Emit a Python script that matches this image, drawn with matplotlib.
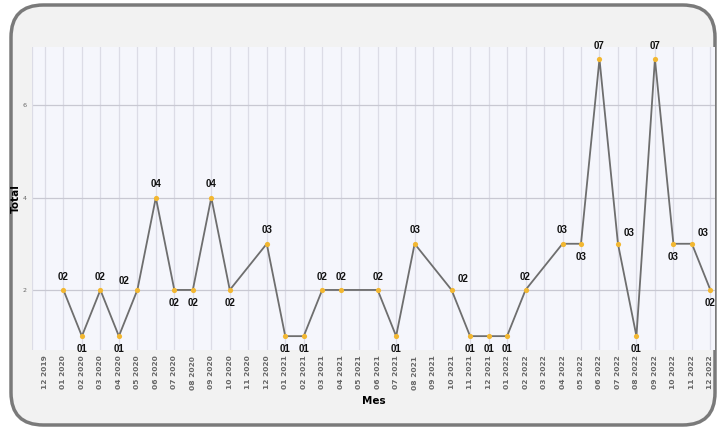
import numpy as np
import matplotlib
matplotlib.use("Agg")
import matplotlib.pyplot as plt
from matplotlib.patches import FancyBboxPatch

# months on the x axis
months = [
    "12 2019",
    "01 2020", "02 2020", "03 2020", "04 2020", "05 2020", "06 2020",
    "07 2020", "08 2020", "09 2020", "10 2020", "11 2020", "12 2020",
    "01 2021", "02 2021", "03 2021", "04 2021", "05 2021", "06 2021",
    "07 2021", "08 2021", "09 2021", "10 2021", "11 2021", "12 2021",
    "01 2022", "02 2022", "03 2022", "04 2022", "05 2022", "06 2022",
    "07 2022", "08 2022", "09 2022", "10 2022", "11 2022", "12 2022",
]
# monthly totals, nan = no record that month
totals = [
    np.nan,
    2, 1, 2, 1, 2, 4, 2, 2, 4, 2, np.nan, 3,
    1, 1, 2, 2, np.nan, 2, 1, 3, np.nan, 2, 1, 1,
    1, 2, np.nan, 3, 3, 7, 3, 1, 7, 3, 3, 2,
]
# where each value label sits: a=above, b=below, l=upper left, r=upper right
label_side = [
    "a", "b", "a", "b", "l", "a", "b", "b", "a", "b", "a",
    "b", "b", "a", "a", "a", "b", "a", "r", "b", "b",
    "b", "a", "a", "b", "a", "r", "b", "a", "b", "r", "b",
]

x = np.arange(len(months))
y = np.array(totals, dtype=float)
ok = ~np.isnan(y)
xs, ys = x[ok], y[ok]

fig = plt.figure(figsize=(7.19, 4.30), dpi=100)
fig.patch.set_facecolor("white")

# rounded grey card behind the chart
card = FancyBboxPatch(
    (11 / 719, 5 / 430), 704 / 719, 420 / 430,
    boxstyle="round,pad=0,rounding_size=0.045",
    transform=fig.transFigure, facecolor="#f2f2f2",
    edgecolor="#7a7a7a", linewidth=2.5, zorder=-5,
    mutation_aspect=719 / 430,
)
fig.patches.append(card)

ax = fig.add_axes([32 / 719, 80 / 430, 683 / 719, 303 / 430])
ax.set_zorder(1)
ax.set_facecolor("#f5f6fc")
ax.set_xlim(-0.7, 36.25)
ax.set_ylim(0.7, 7.26)

ax.set_xticks(x)
ax.set_xticklabels(months, rotation=90, fontsize=5.4, color="#666666",
                   fontweight="bold")
ax.set_yticks([2, 4, 6])
ax.set_yticklabels(["2", "4", "6"], fontsize=4.6, color="#666666")
ax.tick_params(axis="both", length=0, pad=4)
ax.grid(axis="x", color="#dcdce6", linewidth=0.9)
ax.grid(axis="y", color="#c8c8d2", linewidth=0.9)
ax.axvline(-0.7, color="#dcdce6", linewidth=0.9)
for s in ax.spines.values():
    s.set_visible(False)
ax.set_axisbelow(True)

ax.plot(xs, ys, color="#6e6e6e", linewidth=1.3, zorder=2)
ax.scatter(xs, ys, s=14, color="#f2b731", zorder=3, linewidths=0)

offsets = {"a": (0, 6, "center", "bottom"), "b": (0, -6, "center", "top"),
           "l": (-6, 3, "right", "bottom"), "r": (4, 4, "left", "bottom")}
for xi, yi, side in zip(xs, ys, label_side):
    dx, dy, ha, va = offsets[side]
    ax.annotate(f"{int(yi):02d}", (xi, yi), xytext=(dx, dy),
                textcoords="offset points", ha=ha, va=va,
                fontsize=7, fontweight="bold", family="Liberation Sans",
                color="#111111", zorder=4, annotation_clip=False)

ax.set_xlabel("Mes", fontsize=7.5, fontweight="bold", labelpad=5)
ax.set_ylabel("Total", fontsize=7.5, fontweight="bold", labelpad=1)

fig.savefig("out.png", dpi=100)
